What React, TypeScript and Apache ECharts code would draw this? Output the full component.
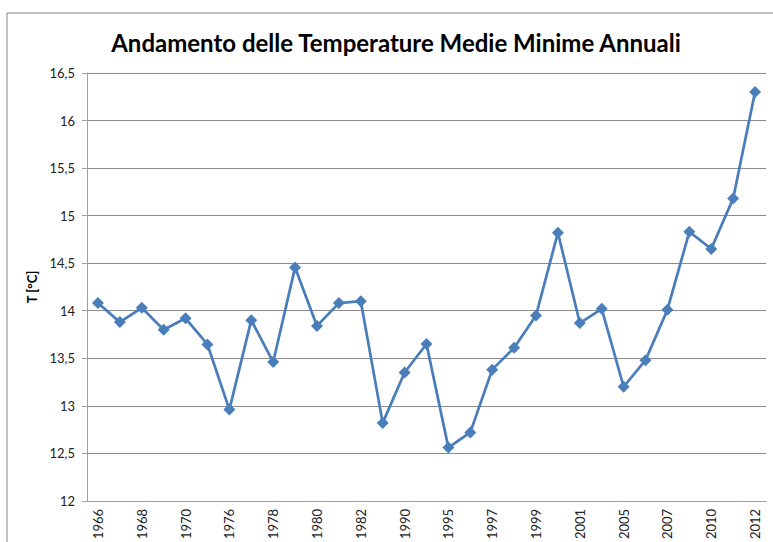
import React, { useEffect, useRef } from "react";
import * as echarts from "echarts";

const years = [
  "1966", "1967", "1968", "1969", "1970", "1975", "1976", "1977", "1978", "1979",
  "1980", "1981", "1982", "1989", "1990", "1994", "1995", "1996", "1997", "1998",
  "1999", "2000", "2001", "2004", "2005", "2006", "2007", "2009", "2010", "2011", "2012",
];
const tMin = [
  14.08, 13.88, 14.03, 13.8, 13.92, 13.645, 12.96, 13.9, 13.46, 14.455,
  13.84, 14.08, 14.1, 12.82, 13.35, 13.65, 12.56, 12.72, 13.38, 13.61,
  13.95, 14.82, 13.87, 14.02, 13.2, 13.48, 14.01, 14.83, 14.65, 15.18, 16.3,
];
const titleText = "Andamento delle Temperature Medie Minime Annuali";
const yName = "T [°C]";

export default function App() {
  const ref = useRef<HTMLDivElement>(null);
  useEffect(() => {
    document.body.style.margin = "0";
    const chart = echarts.init(ref.current!, null, { renderer: "svg" });
    chart.setOption({
      animation: false,
      backgroundColor: "#ffffff",
      title: {
        text: titleText,
        left: 391,
        textAlign: "center",
        top: 25,
        textStyle: {
          fontFamily: "Lato",
          fontWeight: "bold",
          fontSize: 24,
          color: "#000",
        },
      },
      graphic: [
        {
          type: "rect",
          shape: { x: 7, y: 13, width: 820, height: 600 },
          style: { fill: "none", stroke: "#868686", lineWidth: 1 },
          silent: true,
        },
      ],
      grid: { left: 87, right: 7, top: 73, bottom: 39 },
      xAxis: {
        type: "category",
        data: years,
        boundaryGap: true,
        axisLine: { lineStyle: { color: "#a0a0a0", width: 1 } },
        axisTick: { interval: 1, length: 5, lineStyle: { color: "#a0a0a0" } },
        axisLabel: {
          interval: 1,
          rotate: 90,
          margin: 8,
          fontFamily: "Lato",
          fontSize: 13,
          color: "#222",
        },
      },
      yAxis: {
        type: "value",
        min: 12,
        max: 16.5,
        interval: 0.5,
        name: yName,
        nameLocation: "middle",
        nameGap: 43,
        nameTextStyle: {
          fontFamily: "Lato",
          fontWeight: "bold",
          fontSize: 13,
          color: "#000",
        },
        axisLine: { show: true, lineStyle: { color: "#a0a0a0", width: 1 } },
        axisTick: { show: true, length: 5, lineStyle: { color: "#a0a0a0" } },
        splitLine: { lineStyle: { color: "#8c8c8c", width: 1 } },
        axisLabel: {
          margin: 12,
          fontFamily: "Lato",
          fontSize: 13,
          color: "#222",
          formatter: (v: number) => String(v).replace(".", ","),
        },
      },
      series: [
        {
          type: "line",
          data: tMin,
          symbol: "diamond",
          symbolSize: 12,
          itemStyle: { color: "#4a7ebb" },
          lineStyle: { color: "#4a7ebb", width: 2.75 },
        },
      ],
    });
    return () => chart.dispose();
  }, []);
  return <div ref={ref} style={{ width: 773, height: 542 }} />;
}
